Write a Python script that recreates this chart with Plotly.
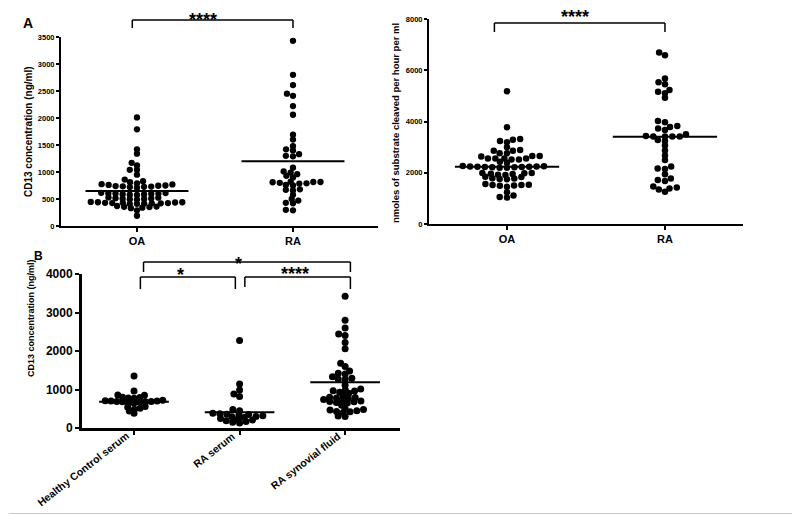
import plotly.graph_objects as go

# The page adds an 8 px body margin, so the figure is drawn 8 px in from the
# window edge; all pixel positions below are window pixels.
OFF = 8
W, H = 800 - OFF, 515 - OFF

# ---------------- data ----------------
cats_a = ["OA", "RA"]
cd13_oa = [2010, 1790, 1420, 1340, 1170, 1120, 1040, 1040, 950,
           860,
           830, 810, 790, 775, 770,
           760, 750, 745, 740, 735, 730, 725, 720, 710,
           615, 610, 605, 600, 600, 595, 590, 585, 580, 575,
           530, 525, 515, 510, 505, 500, 495, 490,
           445, 440, 440, 435, 430, 430, 425, 425, 420, 420, 415, 410, 410,
           370, 360, 355, 350, 340, 330,
           290, 190]
cd13_ra = [3430, 2800, 2610, 2450, 2410, 2220, 2060, 1690, 1600, 1480, 1420, 1400,
           1330, 1300, 1290, 1080, 1010, 990, 960, 930, 900, 820, 815, 815, 810,
           800, 790, 785, 760, 750, 680, 670, 660, 580, 500, 470, 430, 420, 300, 290]
cd13_line = [650, 1200]

act_oa = [5180, 3780, 3320, 3290, 3240, 3190, 3000, 2890, 2860, 2860, 2760, 2760,
          2650, 2650, 2630, 2560, 2560, 2560, 2560, 2520, 2520, 2430, 2390,
          2260, 2250, 2240, 2240, 2230, 2230, 2220, 2220, 2210, 2210, 2200, 2200,
          1990, 1990, 1980, 1960, 1950, 1920, 1910, 1840, 1830, 1790, 1780, 1760, 1750,
          1560, 1530, 1520, 1520, 1500, 1490, 1450,
          1240, 1110, 1050, 1030]
act_ra = [6690, 6590, 5680, 5530, 5450, 5230, 5160, 5100, 4930, 4020, 3970, 3820,
          3790, 3730, 3670, 3500, 3430, 3410, 3410, 3410, 3410, 3280, 3240, 3060,
          2870, 2670, 2500, 2240, 2170, 2150, 1940, 1780, 1720, 1680, 1460, 1420,
          1390, 1350, 1260]
act_line = [2230, 3400]

cats_b = ["Healthy Control serum", "RA serum", "RA synovial fluid"]
b_healthy = [1350, 960, 860, 850, 800, 790, 780, 770, 720, 710, 700, 700, 690,
             690, 680, 680, 670, 660, 650, 560, 540, 510, 490, 440, 380]
b_ra_serum = [2270, 1140, 990, 880, 820, 480, 450, 380, 370, 360, 350, 340,
              320, 300, 290, 270, 250, 230, 210, 190, 170, 150, 130]
b_synovial = [3420, 2800, 2600, 2440, 2400, 2220, 2060, 1680, 1600, 1480, 1420,
              1400, 1330, 1290, 1270, 1260, 1110, 1010, 990, 970, 960, 930, 900,
              840, 800, 790, 780, 770, 740, 720, 700, 690, 680, 660, 650, 590,
              500, 480, 470, 450, 430, 420, 400, 310, 300]
b_line = [680, 410, 1190]

ticks_a1 = [0, 500, 1000, 1500, 2000, 2500, 3000, 3500]
ticks_a2 = [0, 2000, 4000, 6000, 8000]
ticks_b = [0, 1000, 2000, 3000, 4000]

FONT = "Liberation Sans, Arial, sans-serif"

# ---------------- geometry (window pixels) ----------------
P = {
    1: dict(x0=61, x1=378, ytop=37, ybot=226, yr=[0, 3500], xr=[0.513, 2.545]),
    2: dict(x0=429, x1=743, ytop=19, ybot=224, yr=[0, 8000], xr=[0.506, 2.494]),
    3: dict(x0=82, x1=400, ytop=274, ybot=428, yr=[0, 4000], xr=[0.507, 3.52]),
}


def fx(x):
    return (x - OFF) / W


def fy(y):
    return 1 - (y - OFF) / H


def px_x(p):
    g = P[p]
    return (g["x1"] - g["x0"]) / (g["xr"][1] - g["xr"][0])


def px_y(p):
    g = P[p]
    return (g["ybot"] - g["ytop"]) / (g["yr"][1] - g["yr"][0])


def swarm(values, ppx, ppy, sx, sy):
    """Beeswarm offsets: points closer than sy pixels vertically need
    an elliptical horizontal clearance of up to sx pixels."""
    order = sorted(range(len(values)), key=lambda i: values[i])
    placed = []
    offs = [0.0] * len(values)

    def need(dy):
        return sx * (1 - (dy / sy) ** 2) ** 0.5 if dy < sy else 0.0

    for i in order:
        y = values[i] * ppy
        cands = [0.0]
        for (qx, qy) in placed:
            r = need(abs(qy - y))
            if r > 0:
                cands += [qx + r, qx - r]
        cands.sort(key=lambda c: (round(abs(c), 4), c))
        for c in cands:
            if all(abs(c - qx) >= need(abs(y - qy)) - 1e-6 for qx, qy in placed):
                offs[i] = c / ppx
                placed.append((c, y))
                break
    return offs


fig = go.Figure()


def add_group(p, pos, values, line_val, size, sx, sy):
    xa = "x" if p == 1 else "x%d" % p
    ya = "y" if p == 1 else "y%d" % p
    offs = swarm(values, px_x(p), px_y(p), sx, sy)
    fig.add_trace(go.Scatter(
        x=[pos + o for o in offs], y=values, mode="markers",
        marker=dict(color="black", size=size, line=dict(width=0)),
        xaxis=xa, yaxis=ya, showlegend=False, cliponaxis=False))
    fig.add_trace(go.Scatter(
        x=[pos - 0.33, pos + 0.33], y=[line_val, line_val], mode="lines",
        line=dict(color="black", width=2), xaxis=xa, yaxis=ya,
        showlegend=False, cliponaxis=False))


add_group(1, 1, cd13_oa, cd13_line[0], 6.3, 7.2, 4.0)
add_group(1, 2, cd13_ra, cd13_line[1], 6.3, 7.2, 4.0)
add_group(2, 1, act_oa, act_line[0], 6.5, 7.4, 4.2)
add_group(2, 2, act_ra, act_line[1], 6.5, 7.4, 4.2)
add_group(3, 1, b_healthy, b_line[0], 7, 5.8, 4.0)
add_group(3, 2, b_ra_serum, b_line[1], 7, 7.0, 4.0)
add_group(3, 3, b_synovial, b_line[2], 7, 7.0, 4.0)


def dom_x(p):
    g = P[p]
    return [fx(g["x0"]), fx(g["x1"])]


def dom_y(p):
    g = P[p]
    return [fy(g["ybot"]), fy(g["ytop"])]


axis_common = dict(showline=True, linecolor="black", ticks="outside",
                   tickcolor="black", showgrid=False, zeroline=False,
                   fixedrange=True, automargin=False)

layout = dict(
    template="none",
    width=W, height=H, margin=dict(l=0, r=0, t=0, b=0, autoexpand=False),
    paper_bgcolor="white", plot_bgcolor="white",
    font=dict(family=FONT, color="black"),
    xaxis=dict(domain=dom_x(1), range=P[1]["xr"], tickvals=[1, 2], ticktext=cats_a,
               anchor="y", linewidth=2, tickwidth=2, ticklen=4,
               tickfont=dict(size=11, weight="bold"), **axis_common),
    yaxis=dict(domain=dom_y(1), range=P[1]["yr"], tickvals=ticks_a1,
               anchor="x", linewidth=2, tickwidth=1.5, ticklen=3,
               tickfont=dict(size=7.5, weight="bold"), **axis_common),
    xaxis2=dict(domain=dom_x(2), range=P[2]["xr"], tickvals=[1, 2], ticktext=cats_a,
                anchor="y2", linewidth=2, tickwidth=2, ticklen=4,
                tickfont=dict(size=11, weight="bold"), **axis_common),
    yaxis2=dict(domain=dom_y(2), range=P[2]["yr"], tickvals=ticks_a2,
                anchor="x2", linewidth=2, tickwidth=1.5, ticklen=3,
                tickfont=dict(size=7.5, weight="bold"), **axis_common),
    xaxis3=dict(domain=dom_x(3), range=P[3]["xr"], tickvals=[1, 2, 3],
                showticklabels=False,
                anchor="y3", linewidth=3, tickwidth=2, ticklen=4, **axis_common),
    yaxis3=dict(domain=dom_y(3), range=P[3]["yr"], tickvals=ticks_b,
                anchor="x3", linewidth=3, tickwidth=2, ticklen=4,
                tickfont=dict(size=12, weight="bold"), **axis_common),
)
fig.update_layout(**layout)


def text(x, y, s, size, bold=True, angle=0):
    fig.add_annotation(x=fx(x), y=fy(y), xref="paper", yref="paper", text=s,
                       showarrow=False, textangle=angle, xanchor="center",
                       yanchor="middle",
                       font=dict(size=size, family=FONT, color="black",
                                 weight="bold" if bold else "normal"))


# rotated category labels of panel B, anchored at their tick positions
for i, c in enumerate(cats_b):
    fig.add_annotation(x=i + 1.0, y=fy(427), xref="x3", yref="paper",
                       text=c, showarrow=False, textangle=-38,
                       xanchor="right", yanchor="top",
                       font=dict(size=10.5, family=FONT, color="black",
                                 weight="bold"))

text(28, 23, "A", 14)
text(38, 256, "B", 12)
text(28, 132, "CD13 concentration (ng/ml)", 10, angle=-90)
text(395, 123, "nmoles of substrate cleaved per hour per ml", 9.5, angle=-90)
text(31, 318, "CD13 concentration (ng/ml)", 9, angle=-90)

text(203, 20, "****", 18)
text(575, 17, "****", 18)
text(238, 264, "*", 18)
text(180, 275, "*", 18)
text(295, 274, "****", 18)


def bracket(xa, xl, xr, ytop, yl, yr, w=1.5):
    for (x0, y0, x1, y1) in [(xl, ytop, xr, ytop), (xl, ytop, xl, yl),
                             (xr, ytop, xr, yr)]:
        fig.add_shape(type="line", xref=xa, yref="paper", x0=x0, x1=x1,
                      y0=fy(y0), y1=fy(y1), line=dict(color="black", width=w))


bracket("x", 0.97, 2.0, 20, 28, 28)
bracket("x2", 0.92, 2.0, 23, 32, 32)
bracket("x3", 1.09, 3.05, 262, 272, 272)
bracket("x3", 1.06, 1.96, 277, 289, 289)
bracket("x3", 2.05, 3.05, 277, 287, 289)

# light grey picture frame (right and bottom edges fall inside the window)
for (x0, y0, x1, y1) in [(798.5, 9, 798.5, 513.5), (9, 513.5, 798.5, 513.5)]:
    fig.add_shape(type="line", xref="paper", yref="paper", x0=fx(x0), x1=fx(x1),
                  y0=fy(y0), y1=fy(y1), line=dict(color="#c8c8c8", width=1))

fig.write_html("out.html")
